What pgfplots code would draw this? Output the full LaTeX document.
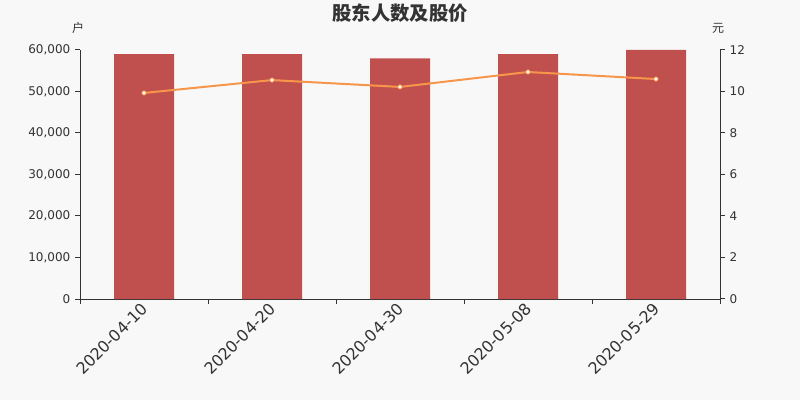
\documentclass[border=0pt]{standalone}
\usepackage{fontspec}
\setmainfont{DejaVu Sans}
\newfontfamily\cjk{Noto Sans CJK SC}
\usepackage{pgfplots}
\pgfplotsset{compat=1.18}
\definecolor{bg}{HTML}{F8F8F8}
\definecolor{barc}{HTML}{C0504D}
\definecolor{linec}{HTML}{F7964A}
\definecolor{txt}{HTML}{333333}
\begin{document}
\begin{tikzpicture}
\fill[bg] (0,0) rectangle (600pt,300pt);
\useasboundingbox (0,0) rectangle (600pt,300pt);
\begin{axis}[
  at={(60pt,75.75pt)}, anchor=south west,
  scale only axis, width=480pt, height=186.75pt,
  xmin=-0.5, xmax=4.5, ymin=0, ymax=60000,
  axis x line*=bottom, axis y line*=left,
  axis line style={txt, line width=0.75pt},
  xtick={0,1,2,3,4},
  xticklabels={2020-04-10,2020-04-20,2020-04-30,2020-05-08,2020-05-29},
  major x tick style={draw=none},
  minor xtick={-0.5,0.5,1.5,2.5,3.5,4.5},
  minor x tick style={txt, line width=0.75pt},
  minor tick length=3.75pt,
  major tick length=3.75pt,
  tick align=outside,
  ytick={0,10000,20000,30000,40000,50000,60000},
  y tick style={txt, line width=0.75pt},
  scaled y ticks=false,
  /pgf/number format/assume math mode=true,
  /pgf/number format/1000 sep={,},
  yticklabel style={font=\fontsize{9pt}{10pt}\selectfont, text=txt},
  xticklabel style={font=\fontsize{12pt}{14pt}\selectfont, text=txt, rotate=45, anchor=east, inner sep=2pt, xshift=1.5pt, yshift=-1.5pt},
]
\addplot[ybar, bar width=45pt, bar shift=0pt, fill=barc, draw=none] coordinates {
  (0,59000) (1,59000) (2,58000) (3,59000) (4,60000)};
\end{axis}
\begin{axis}[
  at={(60pt,75.75pt)}, anchor=south west,
  scale only axis, width=480pt, height=186.75pt,
  xmin=-0.5, xmax=4.5, ymin=0, ymax=12,
  axis x line=none, axis y line*=right,
  axis line style={txt, line width=0.75pt},
  ytick={0,2,4,6,8,10,12},
  y tick style={txt, line width=0.75pt},
  major tick length=3.75pt,
  tick align=outside,
  /pgf/number format/assume math mode=true,
  yticklabel style={font=\fontsize{9pt}{10pt}\selectfont, text=txt},
]
\addplot[linec, line width=1.5pt, mark=*, mark size=1.6pt, mark options={fill=white, draw=linec, line width=0.6pt}] coordinates {
  (0,9.93) (1,10.55) (2,10.22) (3,10.94) (4,10.60)};
\end{axis}
\node[text=txt, font=\cjk\bfseries\fontsize{14.5pt}{16pt}\selectfont] at (300pt,290pt) {股东人数及股价};
\node[text=txt, font=\cjk\fontsize{9pt}{10pt}\selectfont] at (58.5pt,279pt) {户};
\node[text=txt, font=\cjk\fontsize{9pt}{10pt}\selectfont] at (538.5pt,279pt) {元};
\end{tikzpicture}
\end{document}
